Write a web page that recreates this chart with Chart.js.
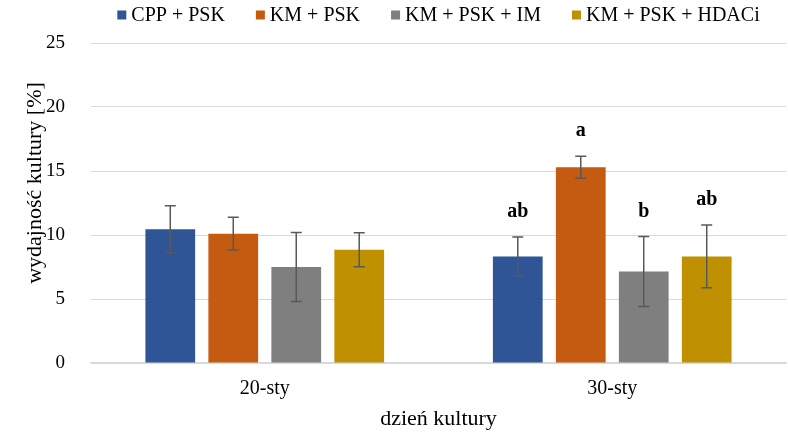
<!DOCTYPE html>
<html>
<head>
<meta charset="utf-8">
<script src="https://cdn.jsdelivr.net/npm/chart.js@4.4.1/dist/chart.umd.min.js"></script>
<style>
    html, body { margin: 0; padding: 0; background: #ffffff; }
    #wrap { width: 788px; height: 432px; }
</style>
</head>
<body>
<div id="wrap"><canvas id="chart" width="788" height="432"></canvas></div>
<script>
const days = ["20-sty", "30-sty"];
const seriesNames = ["CPP + PSK", "KM + PSK", "KM + PSK + IM", "KM + PSK + HDACi"];
const seriesColors = ["#2f5597", "#c55a11", "#7f7f7f", "#bf9000"];

const cppPsk = [10.45, 8.33];
const kmPsk = [10.1, 15.3];
const kmPskIm = [7.5, 7.15];
const kmPskHdaci = [8.85, 8.33];

const cppPskErr = [1.84, 1.52];
const kmPskErr = [1.28, 0.86];
const kmPskImErr = [2.7, 2.73];
const kmPskHdaciErr = [1.33, 2.46];

const cppPskSig = ["", "ab"];
const kmPskSig = ["", "a"];
const kmPskImSig = ["", "b"];
const kmPskHdaciSig = ["", "ab"];

const yTicks = [0, 5, 10, 15, 20, 25];
const yTitle = "wydajność kultury [%]";

const values = [cppPsk, kmPsk, kmPskIm, kmPskHdaci];
const errors = [cppPskErr, kmPskErr, kmPskImErr, kmPskHdaciErr];
const letters = [cppPskSig, kmPskSig, kmPskImSig, kmPskHdaciSig];

const serif = "'Liberation Serif', 'Times New Roman', serif";

// error bars + significance letters
const errorBarPlugin = {
    id: "errorBars",
    afterDatasetsDraw(chart) {
        const ctx = chart.ctx;
        const y = chart.scales.y;
        ctx.save();
        chart.data.datasets.forEach((ds, i) => {
            const meta = chart.getDatasetMeta(i);
            meta.data.forEach((bar, j) => {
                const v = ds.data[j];
                const e = errors[i][j];
                const top = y.getPixelForValue(v + e);
                const bottom = y.getPixelForValue(v - e);
                ctx.strokeStyle = "#595959";
                ctx.lineWidth = 1.5;
                ctx.beginPath();
                ctx.moveTo(bar.x, top);
                ctx.lineTo(bar.x, bottom);
                ctx.moveTo(bar.x - 5.5, top);
                ctx.lineTo(bar.x + 5.5, top);
                ctx.moveTo(bar.x - 5.5, bottom);
                ctx.lineTo(bar.x + 5.5, bottom);
                ctx.stroke();
                const txt = letters[i][j];
                if (txt) {
                    ctx.fillStyle = "#000000";
                    ctx.font = "bold 20px " + serif;
                    ctx.textAlign = "center";
                    ctx.textBaseline = "alphabetic";
                    ctx.fillText(txt, bar.x, top - 20);
                }
            });
        });
        ctx.restore();
    },
};

// legend and y title drawn by hand (tight box/text gap, title sits above plot centre)
const legendPlugin = {
    id: "topLegend",
    afterDraw(chart) {
        const ctx = chart.ctx;
        const area = chart.chartArea;
        const box = 9;
        const gapText = 5;
        const gapItem = 31;
        ctx.save();
        ctx.font = "20px " + serif;
        const widths = seriesNames.map((n) => ctx.measureText(n).width);
        const total = widths.reduce((a, w) => a + box + gapText + w, 0) + gapItem * (seriesNames.length - 1);
        let x = (area.left + area.right) / 2 - total / 2;
        const cy = 15;
        ctx.textBaseline = "middle";
        ctx.textAlign = "left";
        seriesNames.forEach((name, i) => {
            ctx.fillStyle = seriesColors[i];
            ctx.fillRect(x, cy - box / 2, box, box);
            ctx.fillStyle = "#000000";
            ctx.fillText(name, x + box + gapText, cy + 1);
            x += box + gapText + widths[i] + gapItem;
        });

        ctx.translate(35, area.top + (area.bottom - area.top) / 2 - 20);
        ctx.rotate(-Math.PI / 2);
        ctx.font = "22px " + serif;
        ctx.textAlign = "center";
        ctx.fillText(yTitle, 0, 0);
        ctx.restore();
    },
};

new Chart(document.getElementById("chart"), {
    type: "bar",
    data: {
        labels: days,
        datasets: seriesNames.map((name, i) => ({
            label: name,
            data: values[i],
            backgroundColor: seriesColors[i],
            borderWidth: 0,
            categoryPercentage: 0.725,
            barPercentage: 0.79,
        })),
    },
    options: {
        responsive: false,
        animation: false,
        layout: { padding: { top: 43, right: 2, left: 0, bottom: 0 } },
        plugins: {
            legend: { display: false },
            tooltip: { enabled: false },
        },
        scales: {
            x: {
                grid: { display: false, drawTicks: false },
                border: { display: true, color: "#d9d9d9", width: 1.5 },
                ticks: {
                    color: "#000000",
                    padding: 14,
                    font: { family: serif, size: 20 },
                },
                title: {
                    display: true,
                    text: "dzień kultury",
                    color: "#000000",
                    font: { family: serif, size: 22 },
                    padding: { top: 0, bottom: 0 },
                },
                afterFit(scale) {
                    scale.height = 69;
                },
            },
            y: {
                min: 0,
                max: 25,
                afterBuildTicks(scale) {
                    scale.ticks = yTicks.map((v) => ({ value: v }));
                },
                grid: { color: "#d9d9d9", lineWidth: 1, drawTicks: false },
                border: { display: false },
                ticks: {
                    color: "#000000",
                    padding: 26,
                    font: { family: serif, size: 19 },
                },
                afterFit(scale) {
                    scale.width = 91;
                },
            },
        },
    },
    plugins: [errorBarPlugin, legendPlugin],
});
</script>
</body>
</html>
